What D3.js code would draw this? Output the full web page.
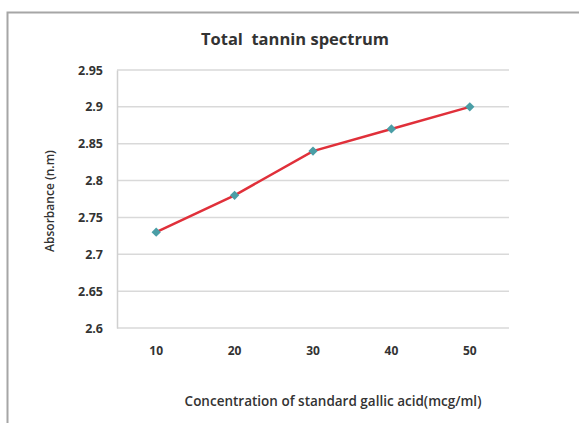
<!DOCTYPE html>
<html>
<head>
<meta charset="utf-8">
<script src="https://cdn.jsdelivr.net/npm/d3@7"></script>
<style>
  body { margin: 0; background: #fff; }
  text { font-family: "Open Sans", "Liberation Sans", sans-serif; fill: #333; }
</style>
</head>
<body>
<div id="chart"></div>
<script>
// data
const concentrations = ['10', '20', '30', '40', '50']
const absorbance = [2.73, 2.78, 2.84, 2.87, 2.9]
const yTicks = [2.6, 2.65, 2.7, 2.75, 2.8, 2.85, 2.9, 2.95]

const width = 579, height = 423
const plot = {left: 117, right: 509, top: 70, bottom: 328}

const svg = d3.select('#chart').append('svg')
  .attr('width', width).attr('height', height)

// outer frame (only top and left visible)
svg.append('path').attr('d', 'M7.5,' + height + 'V12.5H' + width)
  .attr('fill', 'none').attr('stroke', '#a6a6a6').attr('stroke-width', 2)

const x = d3.scaleBand().domain(concentrations).range([plot.left, plot.right])
const y = d3.scaleLinear().domain([2.6, 2.95]).range([plot.bottom, plot.top])

// horizontal grid
svg.append('g').selectAll('line').data(yTicks).enter().append('line')
  .attr('x1', plot.left).attr('x2', plot.right)
  .attr('y1', d => y(d)).attr('y2', d => y(d))
  .attr('stroke', '#d9d9d9').attr('stroke-width', 1.5)

// y axis
const yAxis = svg.append('g').attr('transform', 'translate(' + plot.left + ',0)')
  .call(d3.axisLeft(y).tickValues(yTicks).tickSize(0).tickPadding(14).tickFormat(d => d3.format('')(+d.toFixed(2))))
yAxis.select('.domain').attr('stroke', '#d0d0d0').attr('stroke-width', 1.5)
yAxis.selectAll('text').style('font-size', '12.5px').style('font-weight', 'bold').attr('fill', '#333')

// x axis labels
const xAxis = svg.append('g').attr('transform', 'translate(0,' + plot.bottom + ')')
  .call(d3.axisBottom(x).tickSize(0).tickPadding(18))
xAxis.select('.domain').remove()
xAxis.selectAll('text').style('font-size', '12px').style('font-weight', 'bold').attr('fill', '#333')

// line
const line = d3.line()
  .x((d, i) => x(concentrations[i]) + x.bandwidth() / 2)
  .y(d => y(d))
svg.append('path').datum(absorbance).attr('d', line)
  .attr('fill', 'none').attr('stroke', '#e0303a').attr('stroke-width', 2.5)

// diamond markers
svg.append('g').selectAll('path').data(absorbance).enter().append('path')
  .attr('d', d3.symbol().type(d3.symbolDiamond2).size(55))
  .attr('transform', (d, i) => 'translate(' + (x(concentrations[i]) + x.bandwidth() / 2) + ',' + y(d) + ')')
  .attr('fill', '#4a9ea6')

// titles
svg.append('text').attr('x', 295).attr('y', 45).attr('text-anchor', 'middle')
  .style('font-size', '16.5px').style('font-weight', 'bold').attr('fill', '#222')
  .style('white-space', 'pre').text('Total  tannin spectrum')

svg.append('text').attr('x', 333).attr('y', 406).attr('text-anchor', 'middle')
  .style('font-size', '13.5px').style('font-weight', '600')
  .text('Concentration of standard gallic acid(mcg/ml)')

svg.append('text').attr('transform', 'translate(54,201) rotate(-90)').attr('text-anchor', 'middle')
  .style('font-size', '12px').style('font-weight', '600')
  .text('Absorbance (n.m)')
</script>
</body>
</html>
